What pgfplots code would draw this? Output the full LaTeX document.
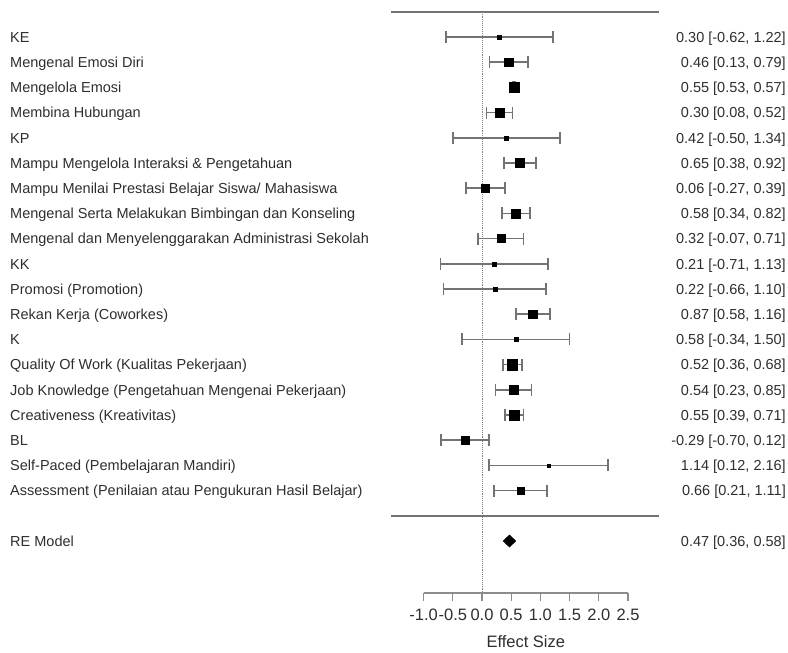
\documentclass[border=0pt]{standalone}
\usepackage{pgfplots}
\pgfplotsset{compat=1.18}
\usepackage{pgfplotstable}
\usepackage{fontspec}
\setmainfont{Liberation Sans}

\pgfplotstableread[col sep=semicolon]{
y;est;lo;hi;s;label;ci
20;0.30;-0.62;1.22;2;KE;0.30 [-0.62, 1.22]
19;0.46;0.13;0.79;4.3;Mengenal Emosi Diri;0.46 [0.13, 0.79]
18;0.55;0.53;0.57;5.2;Mengelola Emosi;0.55 [0.53, 0.57]
17;0.30;0.08;0.52;4.6;Membina Hubungan;0.30 [0.08, 0.52]
16;0.42;-0.50;1.34;2;KP;0.42 [-0.50, 1.34]
15;0.65;0.38;0.92;4.5;Mampu Mengelola Interaksi \& Pengetahuan;0.65 [0.38, 0.92]
14;0.06;-0.27;0.39;4;Mampu Menilai Prestasi Belajar Siswa/ Mahasiswa;0.06 [-0.27, 0.39]
13;0.58;0.34;0.82;4.3;Mengenal Serta Melakukan Bimbingan dan Konseling;0.58 [0.34, 0.82]
12;0.32;-0.07;0.71;4;Mengenal dan Menyelenggarakan Administrasi Sekolah;0.32 [-0.07, 0.71]
11;0.21;-0.71;1.13;2;KK;0.21 [-0.71, 1.13]
10;0.22;-0.66;1.10;2;Promosi (Promotion);0.22 [-0.66, 1.10]
9;0.87;0.58;1.16;4.3;Rekan Kerja (Coworkes);0.87 [0.58, 1.16]
8;0.58;-0.34;1.50;2;K;0.58 [-0.34, 1.50]
7;0.52;0.36;0.68;5.2;Quality Of Work (Kualitas Pekerjaan);0.52 [0.36, 0.68]
6;0.54;0.23;0.85;4.3;Job Knowledge (Pengetahuan Mengenai Pekerjaan);0.54 [0.23, 0.85]
5;0.55;0.39;0.71;5;Creativeness (Kreativitas);0.55 [0.39, 0.71]
4;-0.29;-0.70;0.12;4;BL;-0.29 [-0.70, 0.12]
3;1.14;0.12;2.16;1.6;Self-Paced (Pembelajaran Mandiri);1.14 [0.12, 2.16]
2;0.66;0.21;1.11;3.8;Assessment (Penilaian atau Pengukuran Hasil Belajar);0.66 [0.21, 1.11]
}\studies

\pgfplotstableread[col sep=semicolon]{
y;est;lo;hi;label;ci
0;0.47;0.36;0.58;RE Model;0.47 [0.36, 0.58]
}\pooled

\definecolor{linegray}{gray}{0.45}
\definecolor{txt}{gray}{0.18}

\newcommand{\lblfont}{\fontsize{14.5}{17}\selectfont}
\newcommand{\tckfont}{\fontsize{16.5}{19}\selectfont}

\begin{document}
\begin{tikzpicture}
\begin{axis}[
  x=58.4pt, y=25.2pt,
  xmin=-1, xmax=2.5, ymin=-2.06, ymax=21.3,
  axis x line*=bottom, axis y line=none,
  ytick=\empty,
  xtick={-1,-0.5,0,0.5,1,1.5,2,2.5},
  xtick align=outside,
  major tick length=8pt,
  x axis line style={color=black!45, line width=1.2pt},
  tick style={color=black!45, line width=1.2pt},
  /pgf/number format/assume math mode=true,
  xticklabel style={font=\tckfont, text=txt, yshift=-5pt, /pgf/number format/.cd, fixed, fixed zerofill, precision=1},
  xlabel={Effect Size},
  xlabel style={font=\tckfont, text=txt, yshift=-8pt},
  clip=false,
]
% frame lines
\addplot[linegray, line width=1.6pt] coordinates {(-1.56,21) (3.03,21)};
\addplot[linegray, line width=1.6pt] coordinates {(-1.56,1) (3.03,1)};
\addplot[black!50, densely dotted, line width=0.9pt] coordinates {(0,21) (0,-2.06)};
% CI bars and point estimates
\addplot[scatter, only marks, mark=square*, line width=1.7pt, color=black!55,
  mark options={line width=0.3pt},
  scatter/use mapped color={draw=black, fill=black},
  visualization depends on={\thisrow{s}\as\ms},
  scatter/@pre marker code/.append style={/tikz/mark size=\ms},
  error bars/.cd, x dir=both, x explicit,
  error bar style={line width=1.7pt, draw=black!55},
  error mark options={line width=1.6pt, draw=black!55, mark size=6pt, rotate=90}]
  table[x=est, y=y, x error plus expr=\thisrow{hi}-\thisrow{est}, x error minus expr=\thisrow{est}-\thisrow{lo}] {\studies};
% pooled diamond
\addplot[fill=black, draw=black] coordinates {(0.36,0) (0.47,0.24) (0.58,0) (0.47,-0.24)} -- cycle;
% left labels
\addplot[only marks, mark=none, point meta=explicit symbolic, nodes near coords,
  nodes near coords style={anchor=base west, inner sep=0pt, yshift=-5.2pt, font=\lblfont, text=txt}]
  table[x expr=-8.082, y=y, meta=label] {\studies};
\addplot[only marks, mark=none, point meta=explicit symbolic, nodes near coords,
  nodes near coords style={anchor=base west, inner sep=0pt, yshift=-5.2pt, font=\lblfont, text=txt}]
  table[x expr=-8.082, y=y, meta=label] {\pooled};
% right labels
\addplot[only marks, mark=none, point meta=explicit symbolic, nodes near coords,
  nodes near coords style={anchor=base east, inner sep=0pt, yshift=-5.2pt, font=\lblfont, text=txt}]
  table[x expr=5.205, y=y, meta=ci] {\studies};
\addplot[only marks, mark=none, point meta=explicit symbolic, nodes near coords,
  nodes near coords style={anchor=base east, inner sep=0pt, yshift=-5.2pt, font=\lblfont, text=txt}]
  table[x expr=5.205, y=y, meta=ci] {\pooled};
\coordinate (bbSW) at (axis cs:-8.2534,-4.4048);
\coordinate (bbNE) at (axis cs:5.2397,21.4683);
\end{axis}
\pgfresetboundingbox
\useasboundingbox (bbSW) rectangle (bbNE);
\end{tikzpicture}
\end{document}
